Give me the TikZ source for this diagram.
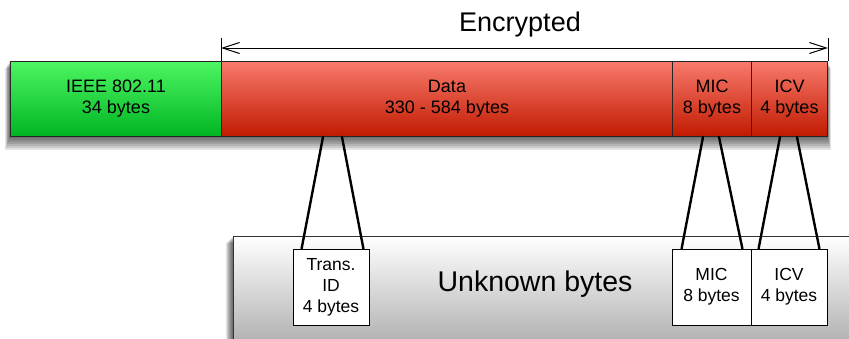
\documentclass[tikz,border=0pt]{standalone}
\usepackage{fontspec}
\setmainfont{Liberation Sans}
\usetikzlibrary{arrows.meta,positioning,calc}

\definecolor{greentop}{HTML}{4DF562}
\definecolor{greenbot}{HTML}{00B522}
\definecolor{redtop}{HTML}{F87A6C}
\definecolor{redbot}{HTML}{C11A00}

\begin{document}
\begin{tikzpicture}[
        x=1pt, y=-1pt,
        field/.style={draw=black!85, line width=1pt, rectangle, inner sep=0pt,
            minimum height=75pt, align=center, anchor=north west,
            font=\fontsize{18}{21}\selectfont},
        hdrfield/.style={field, top color=greentop, bottom color=greenbot},
        encfield/.style={field, top color=redtop, bottom color=redbot},
        bytebox/.style={draw=black, line width=0.8pt, fill=white, rectangle, inner sep=0pt,
            minimum height=76pt, align=center, font=\fontsize{17.5}{21}\selectfont},
        link/.style={line width=2.4pt, line cap=round},
        softshadow/.style={fill=black, opacity=0.11},
    ]
        \clip (0,0) rectangle (849,338);

        % Soft shadows
        \foreach \d in {2,4,...,14} {
            \fill[softshadow] (10-\d/3,61+\d/2) rectangle (827+\d/4,136+\d);
            \fill[softshadow] (233-\d/2,236+\d/2) rectangle (860,350);
        }

        % Unknown bytes area
        \node[draw=black!80, line width=1pt, rectangle, anchor=north west,
            minimum width=640pt, minimum height=104pt,
            top color=white, bottom color=black!30]
            (unknown) at (233,236) {};
        \node[font=\fontsize{28.5}{30}\selectfont] (unklabel) at (535,284) {Unknown bytes};

        % Frame fields
        \node[hdrfield, minimum width=211pt] (ieee) at (10,61) {IEEE 802.11\\34 bytes};
        \node[encfield, minimum width=451pt] (data) at (221,61) {Data\\330 - 584 bytes};
        \node[encfield, minimum width=79pt] (mic) at (672,61) {MIC\\8 bytes};
        \node[encfield, minimum width=76pt] (icv) at (751,61) {ICV\\4 bytes};

        % Encrypted span
        \draw[line width=1pt] (data.north west) -- ++(0,-23);
        \draw[line width=1pt] (icv.north east) -- ++(0,-23);
        \coordinate (encL) at ([yshift=13pt]data.north west);
        \coordinate (encR) at ([yshift=13pt]icv.north east);
        \draw[line width=1pt, {Straight Barb[length=17pt,width=11pt]}-{Straight Barb[length=17pt,width=11pt]}] (encL) -- (encR);
        \node[font=\fontsize{27}{30}\selectfont] (enclabel) at (520,25) {Encrypted};

        % Fields found in the unknown bytes
        \node[bytebox, minimum width=76pt] (trans) at (331,287) {Trans.\\ID\\4 bytes};
        \node[bytebox, minimum width=79pt] (micbox) at (711.5,287) {MIC\\8 bytes};
        \node[bytebox, minimum width=76pt] (icvbox) at (789,287) {ICV\\4 bytes};

        % Links
        \draw[link] ([xshift=102pt]data.south west) -- ([xshift=9pt]trans.north west);
        \draw[link] ([xshift=121pt]data.south west) -- ([xshift=-6pt]trans.north east);
        \draw[link] ([xshift=31pt]mic.south west) -- ([xshift=10pt]micbox.north west);
        \draw[link] ([xshift=47pt]mic.south west) -- ([xshift=-9pt]micbox.north east);
        \draw[link] ([xshift=29pt]icv.south west) -- ([xshift=8pt]icvbox.north west);
        \draw[link] ([xshift=46pt]icv.south west) -- ([xshift=-8pt]icvbox.north east);
    \end{tikzpicture}
\end{document}
